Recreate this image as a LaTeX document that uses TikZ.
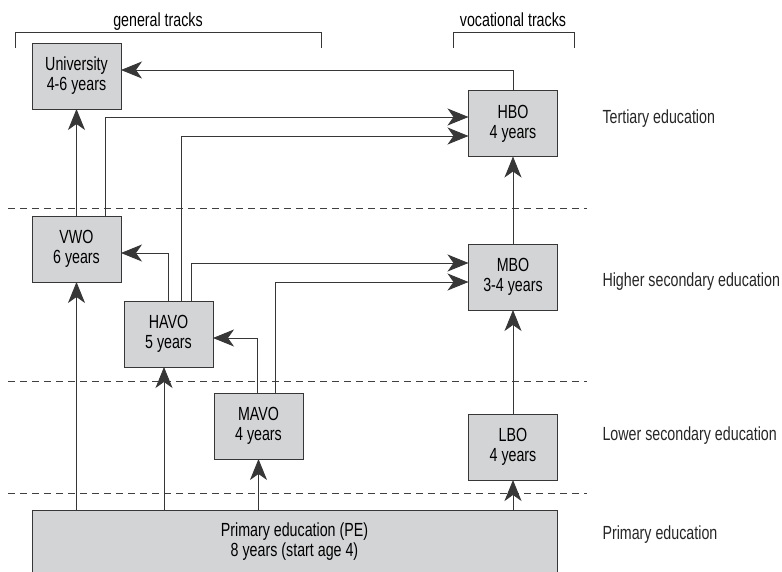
\documentclass[tikz,border=0pt]{standalone}
\usepackage{fontspec}
\setmainfont[FakeStretch=0.75]{Liberation Sans}
\usetikzlibrary{arrows.meta}

\definecolor{boxgray}{RGB}{211,212,214}
\definecolor{linegray}{RGB}{55,55,55}

\tikzstyle{block} = [rectangle, draw=linegray, fill=boxgray, line width=0.9pt, align=center, minimum width=89pt, minimum height=66pt, inner sep=0pt, outer sep=0pt]
\tikzstyle{level} = [anchor=base west, text=black!85]
\tikzstyle{arr} = [-{Stealth[length=21pt,width=17pt,inset=6pt]}, draw=linegray, line width=0.9pt]
\tikzstyle{sep} = [draw=black!75, line width=0.8pt, dash pattern=on 7pt off 5pt]
\tikzstyle{bracket} = [draw=linegray, line width=0.8pt]

\begin{document}
\begin{tikzpicture}[x=1pt, y=-1pt, font=\fontsize{19}{20}\selectfont]
        \useasboundingbox (0,0) rectangle (782,572);
        % level separators
        \foreach \y in {208,381,493}
            \draw[sep] (8,\y) -- (587,\y);

        % track brackets
        \draw[bracket] (15,48) |- (321,32) -- (321,48);
        \draw[bracket] (453,48) |- (574,32) -- (574,48);
        \node (gen) at (158,27) [anchor=base] {general tracks};
        \node (voc) at (513,27) [anchor=base] {vocational tracks};

        % schools
        \node (uni) at (76.5,76) [block] {University\\4-6 years};
        \node (vwo) at (76.5,249) [block] {VWO\\6 years};
        \node (havo) at (168.5,334) [block] {HAVO\\5 years};
        \node (mavo) at (258.5,426) [block] {MAVO\\4 years};
        \node (hbo) at (513,123.5) [block] {HBO\\4 years};
        \node (mbo) at (513,277) [block] {MBO\\3-4 years};
        \node (lbo) at (513,447) [block] {LBO\\4 years};
        \node (pe) at (294.5,542) [block, minimum width=525pt, minimum height=64pt] {Primary education (PE)\\8 years (start age 4)};

        % levels
        \node (tert) at (599,124) [level] {Tertiary education};
        \node (hsec) at (599,287) [level] {Higher secondary education};
        \node (lsec) at (599,440) [level] {Lower secondary education};
        \node (prim) at (599,539) [level] {Primary education};

        % from primary education
        \coordinate (havoin) at ([xshift=-4.5pt]havo.south);
        \draw[arr] (pe.north -| vwo.south) -- (vwo.south);
        \draw[arr] (pe.north -| havoin) -- (havoin);
        \draw[arr] (pe.north -| mavo.south) -- (mavo.south);
        \draw[arr] (pe.north -| lbo.south) -- (lbo.south);

        % vocational track
        \draw[arr] (lbo) -- (mbo);
        \draw[arr] (mbo) -- (hbo);
        \draw[arr] (hbo.north) |- ([yshift=6pt]uni.east);

        % general tracks
        \draw[arr] (vwo) -- (uni);
        \draw[arr] ([xshift=28.5pt]vwo.north) |- ([yshift=6.5pt]hbo.west);
        \draw[arr] (havo.north) |- ([yshift=-4pt]vwo.east);
        \draw[arr] ([xshift=12.5pt]havo.north) |- ([yshift=-12.5pt]hbo.west);
        \draw[arr] ([xshift=22.5pt]havo.north) |- ([yshift=14pt]mbo.west);
        \draw[arr] ([xshift=-1.5pt]mavo.north) |- ([yshift=-4pt]havo.east);
        \draw[arr] ([xshift=16.5pt]mavo.north) |- ([yshift=-5pt]mbo.west);
\end{tikzpicture}
\end{document}
